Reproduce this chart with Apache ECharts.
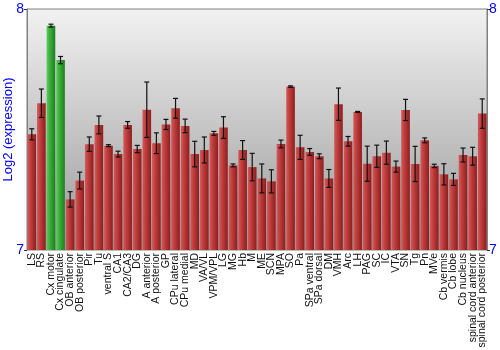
<!DOCTYPE html>
<html><head><meta charset="utf-8">
<script src="https://cdn.jsdelivr.net/npm/echarts@6/dist/echarts.min.js"></script>
<style>html,body{margin:0;padding:0;background:#fff}#c{width:500px;height:350px}</style>
</head><body><div id="c"></div>
<script>
var categories = ["LS","RS","Cx motor","Cx cingulate","OB anterior","OB posterior","Pir","Tu","ventral S","CA1","CA2/CA3","DG","A anterior","A posterior","GP","CPu lateral","CPu medial","MD","VA/VL","VPM/VPL","LG","MG","Hb","M","ME","SCN","MPA","SO","Pa","SPa ventral","SPa dorsal","DM","VMH","Arc","LH","PAG","SC","IC","VTA","SN","Tg","Pn","MVe","Cb vermis","Cb lobe","Cb nucleus","spinal cord anterior","spinal cord posterior"];
var values = [7.480,7.609,7.931,7.788,7.210,7.288,7.439,7.519,7.433,7.398,7.519,7.419,7.582,7.443,7.521,7.588,7.515,7.398,7.415,7.484,7.508,7.351,7.415,7.344,7.297,7.285,7.440,7.678,7.426,7.407,7.389,7.297,7.605,7.451,7.573,7.358,7.389,7.404,7.346,7.581,7.357,7.455,7.349,7.314,7.293,7.394,7.389,7.566];
var errors = [0.023,0.059,0.006,0.015,0.032,0.035,0.030,0.037,0.004,0.012,0.014,0.015,0.115,0.043,0.021,0.041,0.028,0.053,0.054,0.008,0.045,0.006,0.039,0.057,0.060,0.048,0.016,0.003,0.050,0.014,0.010,0.037,0.067,0.020,0.002,0.073,0.046,0.048,0.023,0.044,0.073,0.010,0.007,0.044,0.025,0.029,0.037,0.061];
var highlighted = ["Cx motor","Cx cingulate"];
var yTicks = [7, 8];

var redGrad = new echarts.graphic.LinearGradient(0,0,1,0,[
  {offset:0,color:'#d25a5a'},{offset:0.35,color:'#c23e3e'},{offset:1,color:'#8c1e1e'}]);
var greenGrad = new echarts.graphic.LinearGradient(0,0,1,0,[
  {offset:0,color:'#5ccc5c'},{offset:0.35,color:'#3cb03c'},{offset:1,color:'#1e7e1e'}]);

var barData = values.map(function(v,i){
  var hl = highlighted.indexOf(categories[i]) >= 0;
  return {value:v, itemStyle:{color: hl ? greenGrad : redGrad}};
});
var errData = values.map(function(v,i){ return [i, v - errors[i], v + errors[i]]; });

var FONT = 'Liberation Sans, Arial, sans-serif';
var chart = echarts.init(document.getElementById('c'), null, {renderer:'canvas'});
chart.setOption({
  animation:false,
  grid:{left:27,right:13,top:9,bottom:100,show:true,borderColor:'#808080',borderWidth:1,
    outerBoundsMode:'none',containLabel:false,
    backgroundColor:new echarts.graphic.LinearGradient(0,0,0,1,[{offset:0,color:'#f2f2f2'},{offset:1,color:'#989898'}])},
  xAxis:{type:'category',data:categories,
    axisLine:{show:false},axisTick:{show:false},
    axisLabel:{rotate:90,interval:0,fontSize:10.5,fontFamily:FONT,color:'#111',margin:3}},
  yAxis:[
    {type:'value',min:yTicks[0],max:yTicks[1],interval:1,name:'Log2 (expression)',nameLocation:'middle',nameGap:12,
     nameMoveOverlap:false,
     nameTextStyle:{color:'#0000ff',fontSize:13,fontFamily:FONT},
     axisLine:{show:true,lineStyle:{color:'#808080'}},axisTick:{show:true,length:3,lineStyle:{color:'#333'}},
     axisLabel:{color:'#0000ff',fontSize:14,fontFamily:FONT,margin:3},
     splitLine:{show:false}},
    {type:'value',min:yTicks[0],max:yTicks[1],interval:1,position:'right',
     axisLine:{show:true,lineStyle:{color:'#808080'}},axisTick:{show:true,length:3,lineStyle:{color:'#333'}},
     axisLabel:{color:'#0000ff',fontSize:14,fontFamily:FONT,margin:2},
     splitLine:{show:false}}
  ],
  series:[
    {type:'bar',data:barData,barCategoryGap:'10%'},
    {type:'custom',data:errData,z:5,
     renderItem:function(params,api){
       var x = api.value(0);
       var lo = api.coord([x, api.value(1)]);
       var hi = api.coord([x, api.value(2)]);
       var cw = 2.5;
       var st = {stroke:'#111',lineWidth:1.2};
       return {type:'group',children:[
         {type:'line',shape:{x1:lo[0],y1:lo[1],x2:hi[0],y2:hi[1]},style:st},
         {type:'line',shape:{x1:hi[0]-cw,y1:hi[1],x2:hi[0]+cw,y2:hi[1]},style:st},
         {type:'line',shape:{x1:lo[0]-cw,y1:lo[1],x2:lo[0]+cw,y2:lo[1]},style:st}
       ]};
     }}
  ]
});
</script></body></html>
